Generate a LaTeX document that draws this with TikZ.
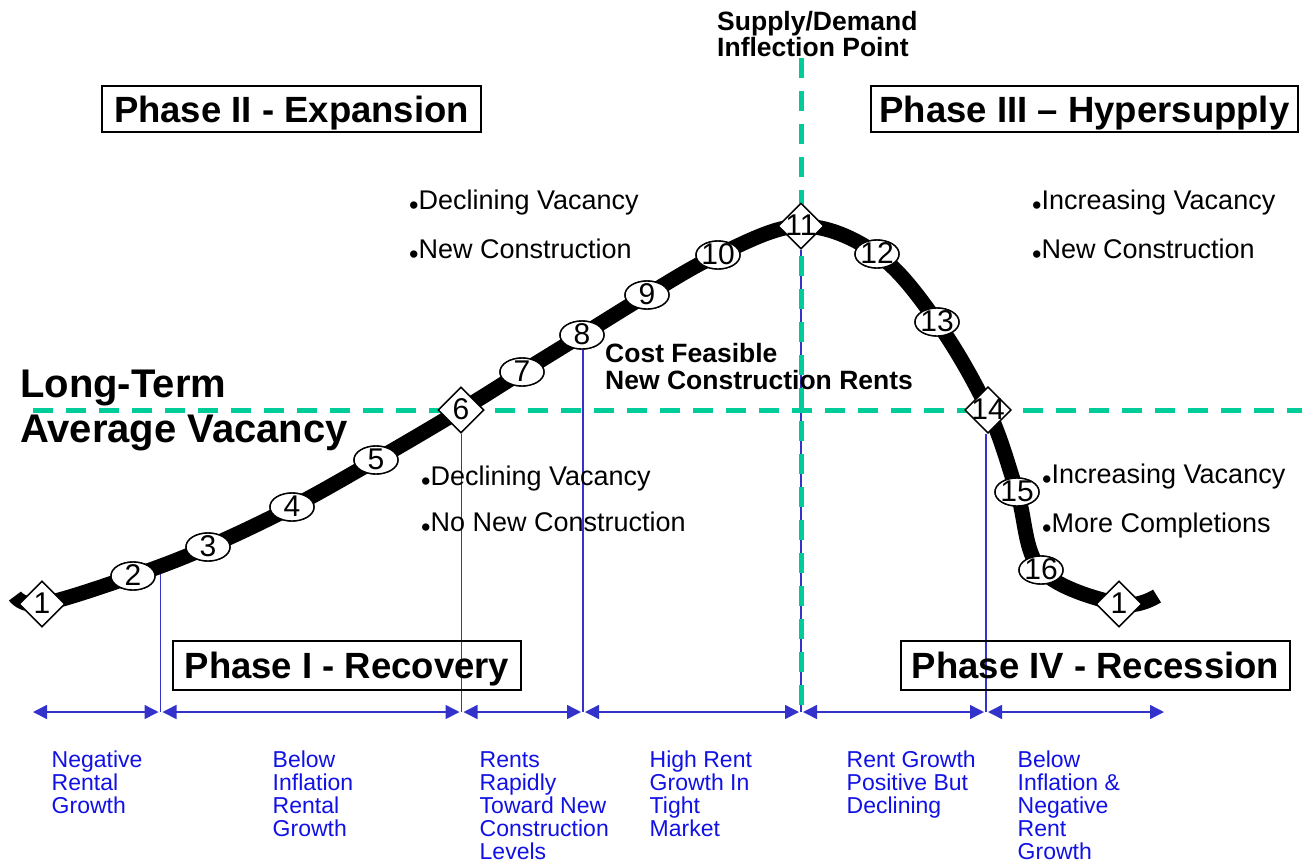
\documentclass[tikz,border=0pt]{standalone}
\usepackage{fontspec}
\setmainfont{Liberation Sans}
\usetikzlibrary{shapes.geometric,arrows.meta}

\definecolor{dashGreen}{RGB}{0,204,153}
\definecolor{lineBlue}{RGB}{51,51,204}
\definecolor{labelBlue}{RGB}{17,17,230}

\newcommand{\fsize}[2]{\fontsize{#1}{#2}\selectfont}
\newcommand{\bulletItem}{\raisebox{-4.5pt}{\textbullet}}

\begin{document}
\begin{tikzpicture}
[x=1pt,y=-1pt,
 ovalDecorate/.style={shape=ellipse,draw,fill=white,line width=1.4pt,inner ysep=0pt,
   inner xsep=-2.5pt,minimum width=44pt,minimum height=28pt,text height=18pt,
   text depth=-3.5pt,font=\fsize{30}{30}},
 diamondDecorate/.style={shape=diamond,draw,fill=white,line width=1.4pt,inner ysep=0pt,
   inner xsep=-2.5pt,minimum width=46pt,minimum height=46pt,text height=18pt,
   text depth=-3.5pt,font=\fsize{30}{30}},
 phaseDecorate/.style={draw,line width=2pt,inner sep=0pt,text height=26pt,text depth=0pt,
   font=\fsize{36.5}{37}\bfseries},
 curveDecorate/.style={line width=15pt,black},
 dashDecorate/.style={dashGreen,line width=5pt,dash pattern=on 20pt off 13pt},
 splitDecorate/.style={lineBlue,line width=1.2pt},
 spanDecorate/.style={lineBlue,line width=1.5pt,<->,>={Triangle[length=14pt,width=14pt]},
   shorten <=2pt,shorten >=2pt},
 noteDecorate/.style={anchor=north west,align=left,inner sep=0pt,labelBlue,font=\fsize{23}{23}},
 bulletDecorate/.style={anchor=north west,align=left,inner sep=0pt,font=\fsize{27}{49}},
 titleDecorate/.style={anchor=north west,align=left,inner sep=0pt,font=\fsize{26.5}{26}\bfseries}]

\useasboundingbox (0,0) rectangle (1302,860);

%% points along the cycle curve
\foreach \pname/\x/\y in {
  p0/15/596, p1/42/604, p2/133/576, p3/208/547, p4/292/507, p5/376/460,
  p6/461/410, p7/522/372, p8/582/335, p9/647/295, p10/718/255, p11/801/226,
  p12/877/254, p13/937/322, p14/988/410, p15/1017/492, p16/1041/570,
  p17/1119/604, p18/1157/596}
{
  \coordinate (\pname) at (\x,\y);
}
%% split points on the rent growth row
\foreach \kname/\x in {k0/31, k1/160.5, k2/461.5, k3/583, k4/801, k5/986, k6/1166}
{
  \coordinate (\kname) at (\x,712);
}
\coordinate (cut2) at (160.5,566);
\coordinate (g0) at (33,410);
\coordinate (g1) at (1302,410);
\coordinate (g2) at (801,58);
\coordinate (g3) at (801,712);

%% markers on the curve
\foreach \pname/\num in {p2/2, p3/3, p4/4, p5/5, p7/7, p8/8, p9/9, p10/10,
  p12/12, p13/13, p15/15, p16/16}
{
  \node (m\num) at (\pname) [ovalDecorate] {};
}
\foreach \pname/\num in {p1/1, p6/6, p11/11, p14/14, p17/17}
{
  \node (m\num) at (\pname) [diamondDecorate] {};
}

%% thin split lines and rent growth spans
\draw[splitDecorate] (cut2) -- (k1);
\foreach \mname/\kname in {m6/k2, m8/k3, m11/k4, m14/k5}
{
  \draw[splitDecorate] (\mname.south -| \kname) -- (\kname);
}
\foreach \from/\to in {k0/k1, k1/k2, k2/k3, k3/k4, k4/k5, k5/k6}
{
  \draw[spanDecorate] (\from) -- (\to);
}

%% vacancy and inflection lines
\draw[dashDecorate] (g0) -- (g1);
\draw[dashDecorate] (g2) -- (g3);

%% the cycle curve
\draw[curveDecorate] plot[smooth,tension=0.6] coordinates {(p0) (p1) (p2) (p3)
  (p4) (p5) (p6) (p7) (p8) (p9) (p10) (p11) (p12) (p13) (p14) (p15) (p16)
  (p17) (p18)};

%% markers again, on top of the curve
\foreach \pname/\num in {p2/2, p3/3, p4/4, p5/5, p7/7, p8/8, p9/9, p10/10,
  p12/12, p13/13, p15/15, p16/16}
{
  \node (m\num) at (\pname) [ovalDecorate] {\num};
}
\foreach \pname/\num/\txt in {p1/1/1, p6/6/6, p11/11/11, p14/14/14, p17/17/1}
{
  \node (m\num) at (\pname) [diamondDecorate] {\txt};
}

%% phase boxes
\node (phaseII) at (291.5,109) [phaseDecorate,minimum width=379pt,minimum height=46pt]
  {Phase II - Expansion};
\node (phaseIII) at (1084.5,109) [phaseDecorate,minimum width=427pt,minimum height=46pt]
  {Phase III -- Hypersupply};
\node (phaseI) at (347,665.5) [phaseDecorate,minimum width=348pt,minimum height=49pt]
  {Phase I - Recovery};
\node (phaseIV) at (1095.5,665.5) [phaseDecorate,minimum width=389pt,minimum height=49pt]
  {Phase IV - Recession};

%% headings
\node (inflection) at (717,11) [titleDecorate] {Supply/Demand\\Inflection Point};
\node (longTerm) at (20,370) [titleDecorate,font=\fsize{40}{45}\bfseries]
  {Long-Term\\Average Vacancy};
\node (costRents) at (605,343) [titleDecorate,font=\fsize{26.5}{27}\bfseries]
  {Cost Feasible\\New Construction Rents};

%% market notes
\node (expNotes) at (409,190) [bulletDecorate]
  {\bulletItem Declining Vacancy\\\bulletItem New Construction};
\node (recNotes) at (421,466) [bulletDecorate,font=\fsize{27}{46}]
  {\bulletItem Declining Vacancy\\\bulletItem No New Construction};
\node (hypNotes) at (1032,190) [bulletDecorate]
  {\bulletItem Increasing Vacancy\\\bulletItem New Construction};
\node (resNotes) at (1042,464) [bulletDecorate]
  {\bulletItem Increasing Vacancy\\\bulletItem More Completions};

%% rent growth notes
\node (rentA) at (51.5,751) [noteDecorate] {Negative\\Rental\\Growth};
\node (rentB) at (272.5,751) [noteDecorate] {Below\\Inflation\\Rental\\Growth};
\node (rentC) at (479.5,751) [noteDecorate]
  {Rents\\Rapidly\\Toward New\\Construction\\Levels};
\node (rentD) at (649.5,751) [noteDecorate] {High Rent\\Growth In\\Tight\\Market};
\node (rentE) at (846.5,751) [noteDecorate] {Rent Growth\\Positive But\\Declining};
\node (rentF) at (1017.5,751) [noteDecorate]
  {Below\\Inflation \&\\Negative\\Rent\\Growth};
\end{tikzpicture}
\end{document}
